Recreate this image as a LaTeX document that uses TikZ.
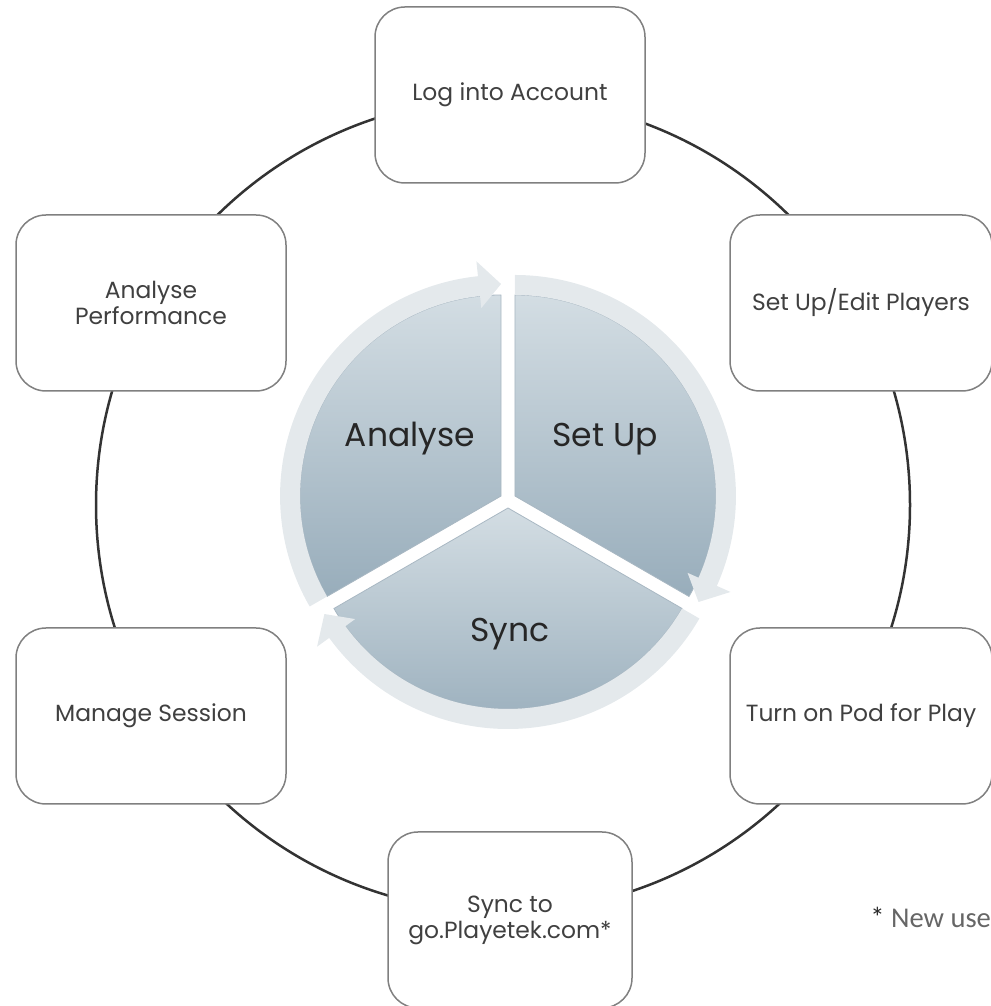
\documentclass[tikz,border=0pt]{standalone}
\usepackage{fontspec}
\setmainfont{Poppins}
\newfontfamily\notefont{Carlito}
\usepackage{tikz}

\definecolor{pietop}{HTML}{D3DDE3}
\definecolor{piebot}{HTML}{98ADBB}
\definecolor{pieedge}{HTML}{A9B8C3}
\definecolor{arrowgray}{HTML}{E4E9EC}
\definecolor{boxline}{HTML}{808080}
\definecolor{txtgray}{HTML}{404040}

\begin{document}
\begin{tikzpicture}[x=0.5pt, y=0.5pt,
        stepbox/.style={draw=boxline, line width=0.75pt, fill=white, rounded corners=15pt,
            minimum width=135pt, minimum height=88pt, align=center, text=txtgray,
            font=\fontsize{11.7}{13}\selectfont},
        pielabel/.style={anchor=base, text=black!85, font=\fontsize{16.5}{18}\selectfont}]
        \useasboundingbox (0,0) rectangle (990,1006);
        \coordinate (loop) at (503,501);
        \draw[line width=1.25pt, black!80] (loop) circle[radius=407];

        \node[stepbox] (login) at (510,911) {Log into Account};
        \node[stepbox, minimum width=131pt] (players) at (861,703) {Set Up/Edit Players};
        \node[stepbox, minimum width=131pt] (pod) at (861,290) {Turn on Pod for Play};
        \node[stepbox, minimum width=122pt] (syncweb) at (510,86) {Sync to\\go.Playetek.com*};
        \node[stepbox] (session) at (151,290) {Manage Session};
        \node[stepbox] (perf) at (151,703) {Analyse\\Performance};

        % slices pushed out along their middle angle, each with its arrow round the rim
        \foreach \b in {150,30,270} {
            \begin{scope}[shift={(508,506)}, shift={(\b:8)}]
                \shadedraw[top color=pietop, bottom color=piebot, draw=pieedge, line width=0.4pt]
                    (0,0) -- (\b+60:201) arc[start angle=\b+60, end angle=\b-60, radius=201] -- cycle;
                \fill[arrowgray] (\b+60:201) arc[start angle=\b+60, end angle=\b-54, radius=201]
                    -- (\b-54:189) -- (\b-60:212) -- (\b-54:236) -- (\b-54:221)
                    arc[start angle=\b-54, end angle=\b+60, radius=221] -- cycle;
            \end{scope}
        }
        \node[pielabel] (analyse) at (410,559) {Analyse};
        \node[pielabel] (setup) at (605,559) {Set Up};
        \node[pielabel] (sync) at (510,364) {Sync};

        \node[anchor=base east, text=black!60, font=\notefont\fontsize{14.3}{16}\selectfont]
            (note) at (998,78) {{\color{black!85}*} New use};
\end{tikzpicture}
\end{document}
